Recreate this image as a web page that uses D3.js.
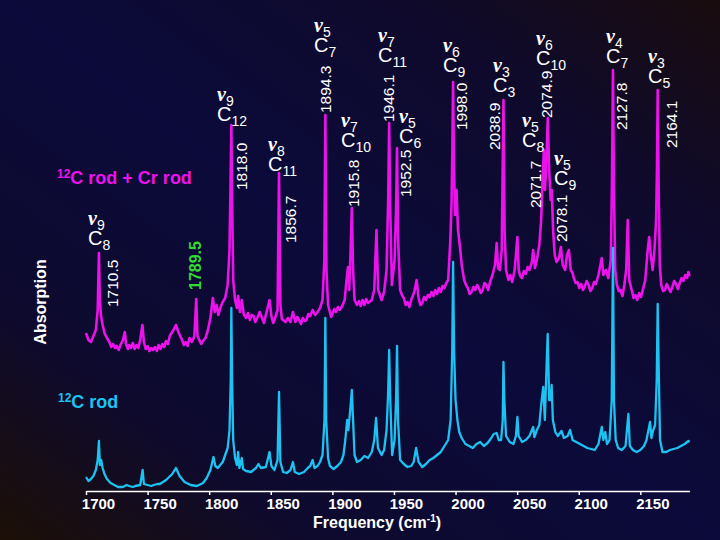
<!DOCTYPE html>
<html><head><meta charset="utf-8">
<script src="https://cdn.jsdelivr.net/npm/d3@7"></script>
<style>html,body{margin:0;padding:0;background:#0b0a3a;}svg{display:block;}</style>
</head><body>
<script>
// ---------- DATA ----------
const freqTicks = [1700,1750,1800,1850,1900,1950,2000,2050,2100,2150];

// 12C rod (lower, cyan) : [frequency cm-1, absorption (a.u.)]
const cyanSpectrum = [
[1700,0.14],[1702,0.10],[1704,0.12],[1706,0.15],[1708,0.21],[1709.5,0.31],[1710.5,0.50],[1711.3,0.26],[1712.3,0.31],[1713.5,0.23],
[1715,0.17],[1717,0.12],[1720,0.08],[1723,0.06],[1726,0.04],[1730,0.04],[1733,0.06],[1735,0.05],[1738,0.04],[1740,0.05],[1744,0.06],[1746,0.21],[1747,0.07],
[1750,0.06],[1753,0.05],[1755,0.06],[1758,0.07],[1760,0.07],[1765,0.11],[1770,0.17],[1773,0.23],[1776,0.15],[1780,0.09],[1785,0.06],[1790,0.05],
[1795,0.08],[1798,0.13],[1801,0.21],[1803.5,0.34],[1805,0.25],[1807,0.23],[1809,0.26],[1811,0.29],[1813,0.36],[1815,0.43],[1816.5,0.61],
[1817.5,1.11],[1818,1.83],[1818.6,1.11],[1819.5,0.51],[1821,0.33],[1822.5,0.26],[1823.5,0.39],[1824.5,0.23],[1826.5,0.33],[1827.5,0.22],
[1830,0.20],[1834,0.19],[1838,0.23],[1840,0.27],[1842,0.23],[1846,0.24],[1849,0.39],[1850.5,0.25],[1853,0.21],[1855.5,0.31],[1856.7,0.99],
[1857.8,0.29],[1860,0.19],[1863,0.18],[1866,0.21],[1868,0.29],[1869.5,0.19],[1873,0.17],[1877,0.19],[1880,0.23],[1882,0.25],[1884,0.31],
[1885.5,0.23],[1888,0.25],[1890,0.29],[1892,0.36],[1893.6,0.71],[1894.3,1.73],[1895,0.71],[1896.5,0.33],[1898,0.25],[1901,0.22],[1904,0.25],
[1907,0.29],[1909,0.36],[1910.5,0.51],[1912,0.71],[1913,0.61],[1914.5,0.81],[1915.8,1.01],[1916.8,0.71],[1918,0.36],[1920,0.29],[1923,0.31],
[1926,0.35],[1929,0.33],[1932,0.39],[1934,0.51],[1935.5,0.73],[1937,0.43],[1940,0.36],[1942,0.41],[1944,0.61],[1945.2,0.96],[1946.1,1.41],
[1947,0.91],[1948.5,0.36],[1950.5,0.51],[1951.7,0.91],[1952.5,1.45],[1953.3,0.71],[1955,0.31],[1958,0.27],[1961,0.24],[1964,0.25],[1966,0.29],
[1968,0.43],[1970,0.29],[1973,0.24],[1976,0.27],[1979,0.31],[1982,0.33],[1985,0.36],[1988,0.39],[1991,0.45],[1994,0.51],[1996,0.71],
[1997.3,1.41],[1998,2.29],[1998.8,1.41],[2000,0.91],[2001.5,0.71],[2003,0.59],[2005,0.53],[2008,0.47],[2011,0.45],[2014,0.43],[2017,0.47],
[2020,0.49],[2023,0.45],[2026,0.48],[2029,0.53],[2031,0.57],[2033.4,0.58],[2035,0.51],[2037,0.51],[2038.3,0.71],[2038.9,1.29],[2039.6,0.91],
[2041,0.55],[2044,0.49],[2047,0.47],[2049,0.55],[2050.2,0.74],[2051.2,0.55],[2054,0.49],[2057,0.51],[2060,0.55],[2063,0.64],[2064,0.54],
[2066,0.61],[2068,0.66],[2069.5,0.86],[2071.2,1.04],[2072.5,0.71],[2073.5,1.11],[2074.8,1.57],[2076,0.91],[2077.2,0.91],[2078,1.06],[2079,0.71],
[2081,0.59],[2083,0.55],[2086,0.60],[2088,0.53],[2091,0.55],[2093,0.61],[2095,0.51],[2098,0.49],[2101,0.47],[2104,0.45],[2107,0.43],
[2110,0.42],[2113,0.41],[2116,0.47],[2118.7,0.64],[2120,0.51],[2121.5,0.59],[2123,0.47],[2125,0.51],[2126.8,0.91],[2127.8,2.43],[2128.6,0.91],
[2130,0.51],[2132,0.43],[2135,0.41],[2138,0.45],[2140.3,0.77],[2141.5,0.45],[2144,0.41],[2147,0.39],[2150,0.41],[2153,0.45],[2155,0.51],
[2157.9,0.69],[2159,0.53],[2160.5,0.61],[2162,0.66],[2163.3,1.11],[2164.1,1.87],[2164.8,1.31],[2166,0.51],[2168,0.39],[2171,0.39],[2174,0.41],
[2177,0.42],[2180,0.43],[2183,0.45],[2186,0.47],[2189,0.50],[2190,0.49]
];

// 12C rod + Cr rod (upper, magenta)
const magentaSpectrum = [
[1700,1.58],[1702,1.51],[1704,1.49],[1706,1.55],[1708,1.61],[1709.5,1.81],[1710.5,2.38],[1711.2,1.91],[1712.3,1.74],[1713.5,1.66],
[1715,1.58],[1717,1.53],[1719,1.49],[1720.5,1.44],[1722,1.47],[1723.5,1.43],[1725,1.45],[1726.5,1.41],[1728,1.46],[1730,1.51],[1731.5,1.59],[1732.5,1.47],
[1734,1.42],[1735,1.46],[1736.5,1.43],[1738,1.48],[1739.5,1.42],[1741,1.46],[1742.5,1.43],[1744,1.51],[1745.8,1.66],[1747,1.49],[1748.5,1.42],[1750,1.45],
[1751.5,1.40],[1753,1.43],[1754.5,1.41],[1756,1.44],[1757.5,1.40],[1759,1.46],[1760.5,1.42],[1762,1.47],[1763.5,1.44],[1765,1.50],[1766.5,1.47],
[1768,1.55],[1771,1.61],[1773,1.66],[1775,1.59],[1776.5,1.55],[1778,1.51],[1779.5,1.46],[1781,1.49],[1782.5,1.45],[1784,1.53],[1786,1.49],[1788,1.55],
[1789.5,1.92],[1790.5,1.55],[1792,1.51],[1793.5,1.47],[1795,1.50],[1797,1.53],[1799,1.61],[1801,1.73],[1803,1.93],[1804.5,1.79],[1806,1.86],
[1807.5,1.76],[1809,1.83],[1811,1.89],[1813,1.93],[1815,2.06],[1816.5,2.41],[1817.4,3.11],[1818,3.66],[1818.6,2.91],[1819.5,2.11],[1821,1.91],
[1822.5,1.83],[1823.5,1.95],[1825,1.79],[1826.5,1.91],[1828,1.77],[1830,1.73],[1831.5,1.78],[1833,1.71],[1834.5,1.76],[1836,1.75],[1837.5,1.69],[1839,1.73],
[1841,1.79],[1843,1.73],[1844.5,1.68],[1846,1.76],[1849,1.91],[1850.5,1.75],[1852,1.68],[1853,1.71],[1855.5,1.81],[1856.7,3.18],[1857.8,1.86],
[1859,1.72],[1860,1.71],[1862,1.69],[1864,1.73],[1866,1.69],[1868,1.79],[1870,1.69],[1871.5,1.74],[1873,1.71],[1874.5,1.67],[1876,1.73],[1877.5,1.70],[1879,1.71],
[1880.5,1.77],[1882,1.75],[1884,1.81],[1886,1.76],[1888,1.79],[1890,1.83],[1892,1.91],[1893.5,2.31],[1894.3,3.76],[1895.2,2.21],[1896.5,1.86],
[1898,1.79],[1899,1.74],[1900,1.77],[1901.5,1.82],[1903,1.79],[1904.5,1.84],[1906,1.81],[1908,1.85],[1910,1.91],[1911.5,2.11],[1912.7,2.24],[1913.7,2.01],
[1914.8,2.41],[1915.8,2.83],[1916.8,2.21],[1918,1.91],[1920,1.86],[1921.5,1.90],[1923,1.85],[1924.5,1.91],[1926,1.86],[1927.5,1.92],[1929,1.88],[1932,1.91],
[1934,2.01],[1935.8,2.61],[1937.2,2.01],[1940,1.91],[1942,1.99],[1944,2.21],[1945.3,2.91],[1946.1,3.68],[1947,2.81],[1948.3,2.06],[1950.5,2.31],
[1951.7,2.81],[1952.5,3.43],[1953.4,2.51],[1955,2.01],[1956.5,1.96],[1958,1.93],[1959.5,1.86],[1961,1.89],[1962.5,1.84],[1964,1.91],[1966.5,1.99],[1968.4,2.11],
[1970,1.93],[1971.5,1.86],[1973,1.88],[1974.5,1.94],[1976,1.91],[1977.5,1.96],[1979,1.94],[1980.5,1.99],[1982,1.95],[1983.5,2.01],[1985,1.97],[1986.5,2.03],
[1988,1.99],[1989.5,2.05],[1991,2.03],[1992.5,2.08],[1994,2.11],[1995.8,2.51],[1996.8,2.91],[1997.4,3.41],[1998,4.09],[1998.7,3.31],
[1999.5,2.76],[2000.8,3.01],[2002,2.61],[2003.6,2.44],[2005,2.26],[2007,2.11],[2008.5,2.06],[2010,2.03],[2011.5,1.97],[2013,1.99],[2014.5,2.04],[2016,2.01],
[2017.5,2.06],[2019,2.03],[2020.5,1.98],[2022,2.01],[2023.5,2.08],[2025,2.06],[2026.5,2.01],[2028,2.09],[2030,2.16],[2032,2.26],[2033.4,2.48],[2034.5,2.23],
[2036,2.21],[2037.5,2.41],[2038.9,3.91],[2039.8,2.61],[2041,2.21],[2043,2.11],[2044.5,2.16],[2046,2.09],[2048,2.21],[2050.2,2.54],[2051.3,2.21],
[2052.5,2.15],[2054,2.13],[2055.5,2.20],[2057,2.17],[2058.5,2.24],[2060,2.21],[2062,2.29],[2063,2.41],[2064.5,2.23],[2066,2.31],[2068,2.46],[2069.5,2.71],
[2070.8,3.16],[2071.7,3.41],[2072.6,3.01],[2073.6,3.26],[2074.9,3.73],[2076,3.21],[2077.2,2.91],[2078.1,3.01],[2079.2,2.61],[2080.5,2.36],
[2082,2.29],[2084,2.33],[2085.5,2.44],[2087,2.26],[2089,2.21],[2090.5,2.36],[2092,2.41],[2093.5,2.21],[2095,2.18],[2096,2.13],[2097.5,2.08],[2099,2.09],
[2100.5,2.03],[2102,2.07],[2103.5,2.01],[2105,2.05],[2106.5,2.10],[2108,2.06],[2109.5,2.00],[2111,2.03],[2112.5,2.09],[2114,2.07],[2116,2.16],[2118.7,2.33],[2120,2.16],
[2122,2.21],[2124,2.13],[2126,2.31],[2127,3.11],[2127.8,4.21],[2128.6,3.01],[2129.6,2.21],[2131,2.06],[2132.5,2.00],[2134,2.01],[2135.5,1.95],[2137,2.06],
[2138.5,2.21],[2139.8,2.71],[2141,2.11],[2143,2.01],[2144.5,1.93],[2146,1.96],[2147.5,1.91],[2149,1.98],[2150.5,1.94],[2152,2.01],[2154,2.11],[2156,2.41],
[2157.2,2.54],[2158.5,2.36],[2160,2.21],[2161.5,2.41],[2162.8,2.71],[2163.5,3.21],[2164.1,4.01],[2164.8,3.11],[2165.8,2.26],[2167,2.06],
[2168.5,2.00],[2170,2.01],[2171.5,2.07],[2173,2.03],[2174.5,1.99],[2176,2.04],[2177.5,2.10],[2179,2.07],[2180.5,2.02],[2182,2.08],[2183.5,2.13],[2185,2.10],
[2186.5,2.16],[2188,2.13],[2189,2.19],[2190,2.15]
];

// peak frequency labels
const peakLabels = ["1710.5","1789.5","1818.0","1856.7","1894.3","1915.8","1946.1","1952.5","1998.0","2038.9","2071.7","2074.9","2078.1","2127.8","2164.1"];
// assignments: vibrational mode index and cluster size
const modeIndex    = ["9","9","8","5","7","7","5","6","3","5","6","5","4","3"];
const clusterSize  = ["8","12","11","7","10","11","6","9","3","8","10","9","7","5"];

// ---------- LAYOUT ----------
const W = 720, H = 540;
const peakLabelPos = [ // [center x, bottom y]
 [112,307],[195,290],[241.5,190],[290,243],[325,113],[353,207],[388,122],[405,197],
 [461.5,130],[494,150],[535,208],[546.5,118],[561.5,242],[621,130],[671.5,148]];
const assignPos = [ // [left x, baseline of C line]
 [88,245],[217,121],[268,171],[314,52],[341,147],[378,62],[399,143],[443,72],
 [493,92],[522,147],[536,65],[554,185],[606,63],[648,83]];

const SANS = "'Liberation Sans', Arial, Helvetica, sans-serif";
const SERIF = "'Liberation Serif', 'Times New Roman', serif";
const MAGENTA = "#ec12ec", CYAN = "#1cc3f2", GREEN = "#2fdc2f";

const svg = d3.select("body").append("svg").attr("width", W).attr("height", H);

// background gradient
const defs = svg.append("defs");
const g = defs.append("linearGradient").attr("id","bg")
  .attr("x1","100%").attr("y1","0%").attr("x2","0%").attr("y2","100%");
g.append("stop").attr("offset","0%").attr("stop-color","#190c0e");
g.append("stop").attr("offset","22%").attr("stop-color","#0f0a2c");
g.append("stop").attr("offset","50%").attr("stop-color","#0b0a3a");
g.append("stop").attr("offset","78%").attr("stop-color","#0e0a2e");
g.append("stop").attr("offset","100%").attr("stop-color","#1c0f06");
svg.append("rect").attr("width",W).attr("height",H).attr("fill","url(#bg)");

const x = d3.scaleLinear().domain([1700, 2190]).range([86, 689.6]);
const y = d3.scaleLinear().domain([0, 4.3]).range([491, 61]);

const line = d3.line().x(d => x(d[0])).y(d => y(d[1]));

svg.append("path").datum(magentaSpectrum).attr("d", line)
  .attr("fill","none").attr("stroke",MAGENTA).attr("stroke-width",2.6).attr("stroke-linejoin","round");
svg.append("path").datum(cyanSpectrum).attr("d", line)
  .attr("fill","none").attr("stroke",CYAN).attr("stroke-width",2.3).attr("stroke-linejoin","round");

// axis
const ax = svg.append("g").attr("transform","translate(0,491)")
  .call(d3.axisBottom(x).tickValues(freqTicks).tickSize(4).tickSizeOuter(0).tickFormat(d3.format("d")));
ax.select(".domain").attr("stroke","#fff").attr("stroke-width",1.5);
ax.selectAll(".tick line").attr("stroke","#fff").attr("stroke-width",1.5);
ax.selectAll(".tick text").attr("fill","#fff").attr("font-family",SANS)
  .attr("font-size",15).attr("font-weight","bold").attr("dx",12);

// axis titles
const ft = svg.append("text").attr("x",313).attr("y",528).attr("fill","#fff")
  .attr("font-family",SANS).attr("font-size",16).attr("font-weight","bold");
ft.append("tspan").text("Frequency (cm");
ft.append("tspan").attr("font-size",10).attr("dy",-6).text("-1");
ft.append("tspan").attr("dy",6).text(")");

svg.append("text").attr("transform","translate(46,302) rotate(-90)")
  .attr("text-anchor","middle").attr("fill","#fff").attr("font-family",SANS)
  .attr("font-size",16).attr("font-weight","bold").text("Absorption");

// series labels
function seriesLabel(tx, ty, color, rest){
  const t = svg.append("text").attr("x",tx).attr("y",ty).attr("fill",color)
    .attr("font-family",SANS).attr("font-size",18).attr("font-weight","bold");
  t.append("tspan").attr("font-size",12).attr("dy",-6).text("12");
  t.append("tspan").attr("dy",6).text(rest);
}
seriesLabel(57, 184, MAGENTA, "C rod + Cr rod");
seriesLabel(58, 408, CYAN, "C rod");

// peak frequency labels (rotated)
peakLabels.forEach((lab, i) => {
  const [cx, by] = peakLabelPos[i];
  const green = lab === "1789.5";
  svg.append("text")
    .attr("transform", `translate(${cx + 5.6},${by}) rotate(-90)`)
    .attr("fill", green ? GREEN : "#fff")
    .attr("font-family", SANS).attr("font-size", green ? 16 : 15.5)
    .attr("font-weight", green ? "bold" : "normal")
    .text(lab);
});

// assignments (nu_n / C_n)
modeIndex.forEach((m, i) => {
  const [lx, cy] = assignPos[i];
  const t1 = svg.append("text").attr("x", lx).attr("y", cy - 20).attr("fill","#fff").attr("font-family",SANS);
  t1.append("tspan").attr("font-family",SERIF).attr("font-style","italic").attr("font-weight","bold")
    .attr("font-size",20).text("\u03BD");
  t1.append("tspan").attr("font-size",14).attr("dy",5).text(m);
  const t2 = svg.append("text").attr("x", lx).attr("y", cy).attr("fill","#fff")
    .attr("font-family",SANS).attr("font-size",20);
  t2.append("tspan").text("C");
  t2.append("tspan").attr("font-size",14).attr("dy",5).text(clusterSize[i]);
});
</script>
</body></html>
